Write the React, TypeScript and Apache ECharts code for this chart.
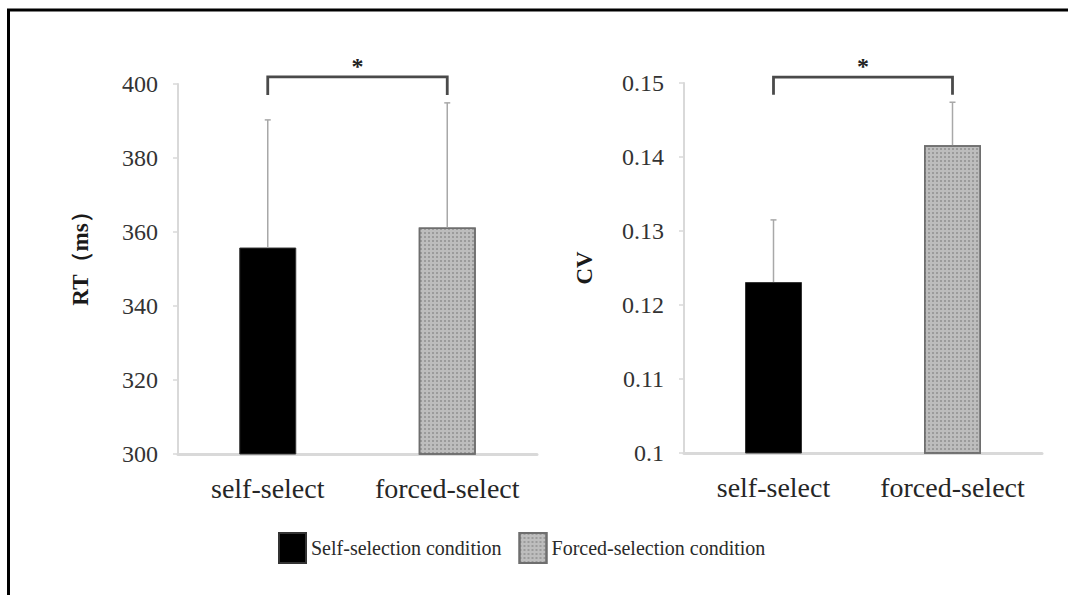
import React, { useEffect, useRef } from 'react';
import * as echarts from 'echarts';

const categories = ['self-select', 'forced-select'];
const seriesNames = ['Self-selection condition', 'Forced-selection condition'];
const rtMeans = [355.8, 361.2];
const rtErrTop = [390.3, 394.9];
const cvMeans = [0.1231, 0.1416];
const cvErrTop = [0.1315, 0.1474];
const rtBracket = [401.9, 397.0];
const cvBracket = [0.1508, 0.1484];
const sigLabel = '*';
const rtAxisName = 'RT（ms）';
const cvAxisName = 'CV';

const SERIF = '"Liberation Serif", "Times New Roman", serif';

function errRender(params: any, api: any) {
  const x = api.value(0);
  const lo = api.coord([x, api.value(1)]);
  const hi = api.coord([x, api.value(2)]);
  const st = { stroke: '#a8a8a8', lineWidth: 1.5 };
  return {
    type: 'group',
    children: [
      { type: 'line', shape: { x1: lo[0], y1: lo[1], x2: hi[0], y2: hi[1] }, style: st },
      { type: 'line', shape: { x1: hi[0] - 3, y1: hi[1], x2: hi[0] + 3, y2: hi[1] }, style: st },
    ],
  };
}

function bracketRender(params: any, api: any) {
  const a = api.coord([api.value(0), api.value(2)]);
  const b = api.coord([api.value(1), api.value(2)]);
  const a2 = api.coord([api.value(0), api.value(3)]);
  const b2 = api.coord([api.value(1), api.value(3)]);
  return {
    type: 'group',
    children: [
      {
        type: 'polyline',
        shape: { points: [[a2[0], a2[1]], [a[0], a[1]], [b[0], b[1]], [b2[0], b2[1]]] },
        style: { stroke: '#4a4a4a', lineWidth: 2.8, fill: 'none' },
      },
      {
        type: 'text',
        x: (a[0] + b[0]) / 2,
        y: a[1] + 1,
        style: {
          text: sigLabel,
          font: 'bold 24px ' + SERIF,
          fill: '#222',
          textAlign: 'center',
          textVerticalAlign: 'bottom',
        },
      },
    ],
  };
}

export default function App() {
  const ref = useRef<HTMLDivElement>(null);
  useEffect(() => {
    if (!ref.current) return;
    const chart = echarts.init(ref.current, undefined, { renderer: 'svg' });
    const xAxisCommon = {
      type: 'category',
      data: categories,
      axisLine: { lineStyle: { color: '#d9d9d9', width: 3 } },
      axisTick: { show: false },
      axisLabel: { fontFamily: SERIF, fontSize: 28, color: '#262626', margin: 20, interval: 0, hideOverlap: false },
    };
    const yAxisCommon = {
      type: 'value',
      splitLine: { show: false },
      axisLine: { show: true, lineStyle: { color: '#d9d9d9', width: 2 } },
      axisTick: { show: true, length: 5, lineStyle: { color: '#d9d9d9', width: 1.5 } },
      axisLabel: { fontFamily: SERIF, fontSize: 24, color: '#333', margin: 20 },
      nameLocation: 'middle',
      nameTextStyle: { fontFamily: SERIF, fontSize: 23, fontWeight: 'bold', color: '#1a1a1a' },
    };
    const blackStyle = { color: '#000', borderColor: '#333', borderWidth: 1 };
    const grayStyle = {
      color: '#bdbdbd',
      borderColor: '#6e6e6e',
      borderWidth: 1.5,
      decal: {
        symbol: 'rect',
        symbolSize: 1,
        color: 'rgba(90,90,90,0.35)',
        dashArrayX: [2, 2],
        dashArrayY: [2, 2],
        rotation: 0,
      },
    };
    const mk = (idx: number, means: number[]) => [
      {
        name: seriesNames[0],
        type: 'bar',
        xAxisIndex: idx,
        yAxisIndex: idx,
        barWidth: 57,
        barGap: '-100%',
        itemStyle: blackStyle,
        data: [means[0], '-'],
      },
      {
        name: seriesNames[1],
        type: 'bar',
        xAxisIndex: idx,
        yAxisIndex: idx,
        barWidth: 57,
        barGap: '-100%',
        itemStyle: grayStyle,
        data: ['-', means[1]],
      },
    ];
    chart.setOption({
      animation: false,
      aria: { enabled: false },
      grid: [
        { left: 178, right: 1068 - 537, top: 84, bottom: 595 - 454 },
        { left: 684, right: 1068 - 1042, top: 83, bottom: 595 - 453 },
      ],
      xAxis: [
        { ...xAxisCommon, gridIndex: 0 },
        { ...xAxisCommon, gridIndex: 1 },
      ],
      yAxis: [
        {
          ...yAxisCommon,
          gridIndex: 0,
          min: 300,
          max: 400,
          interval: 20,
          name: rtAxisName,
          nameGap: 86,
          nameTextStyle: { ...yAxisCommon.nameTextStyle, padding: [0, 0, 0, 32] },
        },
        {
          ...yAxisCommon,
          gridIndex: 1,
          min: 0.1,
          max: 0.15,
          interval: 0.01,
          name: cvAxisName,
          nameGap: 88,
          axisLabel: {
            ...yAxisCommon.axisLabel,
            formatter: (v: number) => String(parseFloat(v.toFixed(2))),
          },
        },
      ],
      legend: {
        left: 273,
        top: 527,
        itemWidth: 27,
        itemHeight: 30,
        itemGap: 17,
        icon: 'rect',
        textStyle: { fontFamily: SERIF, fontSize: 20, color: '#2a2a2a' },
        data: seriesNames,
      },
      graphic: [
        {
          type: 'polyline',
          shape: { points: [[8.5, 595], [8.5, 10], [1068, 10]] },
          style: { stroke: '#000', lineWidth: 3, fill: 'none' },
        },
      ],
      series: [
        ...mk(0, rtMeans),
        ...mk(1, cvMeans),
        {
          type: 'custom',
          xAxisIndex: 0,
          yAxisIndex: 0,
          renderItem: errRender,
          encode: { x: 0, y: [1, 2] },
          data: [
            [0, rtMeans[0], rtErrTop[0]],
            [1, rtMeans[1], rtErrTop[1]],
          ],
          z: 3,
        },
        {
          type: 'custom',
          xAxisIndex: 1,
          yAxisIndex: 1,
          renderItem: errRender,
          encode: { x: 0, y: [1, 2] },
          data: [
            [0, cvMeans[0], cvErrTop[0]],
            [1, cvMeans[1], cvErrTop[1]],
          ],
          z: 3,
        },
        {
          type: 'custom',
          xAxisIndex: 0,
          yAxisIndex: 0,
          renderItem: bracketRender,
          encode: { x: [0, 1], y: [2, 3] },
          clip: false,
          data: [[0, 1, rtBracket[0], rtBracket[1]]],
        },
        {
          type: 'custom',
          xAxisIndex: 1,
          yAxisIndex: 1,
          renderItem: bracketRender,
          encode: { x: [0, 1], y: [2, 3] },
          clip: false,
          data: [[0, 1, cvBracket[0], cvBracket[1]]],
        },
      ],
    });
    return () => chart.dispose();
  }, []);
  return (
    <div
      ref={ref}
      style={{ position: 'absolute', left: 0, top: 0, width: 1068, height: 595, background: '#fff' }}
    />
  );
}
